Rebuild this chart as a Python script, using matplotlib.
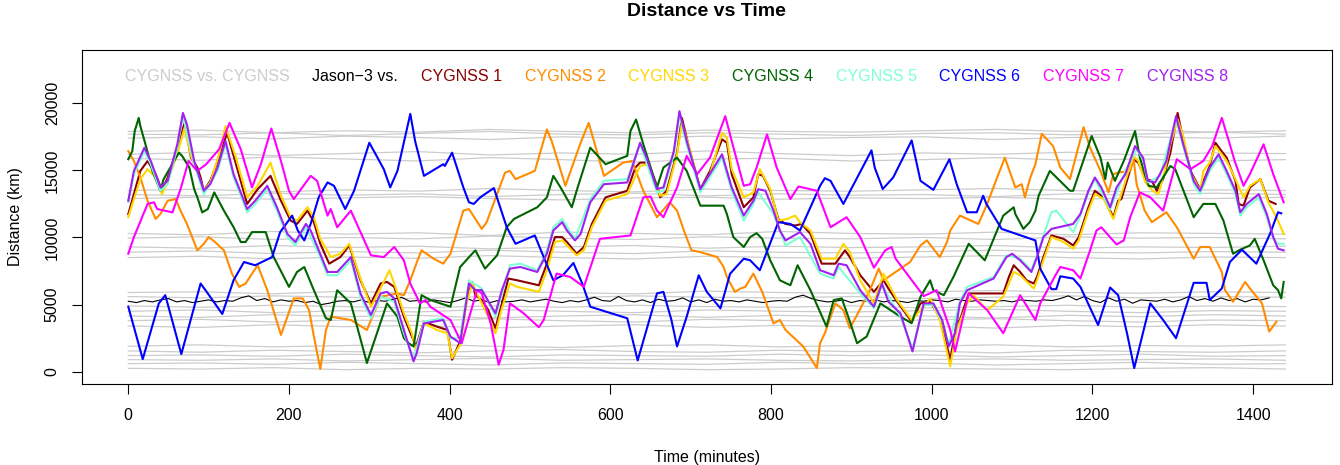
import numpy as np
import matplotlib
matplotlib.use("Agg")
import matplotlib.pyplot as plt

plt.rcParams['font.family'] = ['Liberation Sans', 'DejaVu Sans']

# ---- data (minutes, km) ----
jason_t = list(range(0, 1430, 10))
jason_d = [5250, 5150, 5300, 5200, 5350, 5450, 5200, 5300, 5150, 5250, 5350, 5200,
           5300, 5250, 5500, 5650, 5300, 5450, 5200, 5350, 5250, 5300, 5150, 5250,
           5000, 5100, 5250, 5300, 5200, 5350, 5150, 5300, 5250, 5400, 5550, 5250,
           5300, 5200, 5350, 5250, 5150, 5300, 5500, 5250, 5350, 5150, 5300, 5200,
           5250, 5350, 5200, 5300, 5400, 5250, 5150, 5300, 5200, 5350, 5550, 5300,
           5250, 5600, 5300, 5200, 5350, 5150, 5400, 5250, 5300, 5500, 5200, 5350,
           5150, 5400, 5250, 5300, 5200, 5350, 5250, 5150, 5250, 5300, 5250, 5550,
           5700, 5450, 5300, 5200, 5250, 5350, 5150, 5300, 5250, 5350, 5200, 5300,
           5250, 5150, 5300, 5250, 5350, 5300, 5200, 5400, 5300, 5250, 5350, 5300,
           5250, 5300, 5200, 5350, 5300, 5250, 5350, 5300, 5450, 5650, 5350, 5600,
           5300, 5150, 5500, 5250, 5400, 5100, 5350, 5300, 5250, 5400, 5200, 5350,
           5600, 5300, 5450, 5250, 5500, 5300, 5450, 5200, 5400, 5350, 5500]

# CYGNSS vs CYGNSS pairs (gray background lines)
pair_t = [0, 90, 180, 270, 360, 450, 540, 630, 720, 810, 900, 990, 1080, 1170, 1260, 1350, 1440]
pair_d = [
    [17700, 17650, 17800, 17600, 17750, 17900, 17700, 17650, 17800, 17700, 17600, 17750, 17800, 17650, 17700, 17850, 17700],
    [17400, 17500, 17350, 17550, 17450, 17300, 17500, 17400, 17550, 17350, 17450, 17500, 17300, 17450, 17500, 17400, 17550],
    [17900, 18000, 17800, 17950, 17850, 18050, 17900, 17800, 18000, 17900, 17850, 17950, 18050, 17900, 18000, 17850, 17950],
    [16200, 16350, 16100, 16250, 16400, 16150, 16300, 16200, 16450, 16250, 16100, 16300, 16200, 16350, 16150, 16300, 16250],
    [15900, 15750, 16000, 15850, 15700, 15950, 15800, 15600, 15850, 15900, 15700, 15800, 15950, 15750, 15850, 15700, 15800],
    [13500, 13600, 13400, 13550, 13450, 13650, 13500, 13400, 13600, 13500, 13450, 13550, 13650, 13500, 13400, 13550, 13500],
    [13200, 13100, 13300, 13150, 13250, 13050, 13200, 13300, 13100, 13250, 13150, 13200, 13050, 13250, 13150, 13300, 13200],
    [12900, 13000, 12850, 12950, 13050, 12900, 12800, 12950, 13000, 12850, 12950, 12900, 13000, 12850, 12950, 12900, 13000],
    [10300, 10200, 10450, 10250, 10350, 10150, 10400, 10300, 10200, 10450, 10300, 10250, 10400, 10200, 10350, 10300, 10250],
    [9950, 10050, 9850, 10000, 9900, 10100, 9950, 9850, 10050, 9950, 9900, 10000, 9850, 10050, 9950, 10000, 9900],
    [9300, 9200, 9400, 9250, 9350, 9150, 9300, 9400, 9200, 9350, 9250, 9300, 9400, 9200, 9300, 9250, 9350],
    [8900, 9000, 8800, 8950, 8850, 9050, 8900, 8800, 9000, 8900, 8850, 8950, 9050, 8900, 8850, 8950, 8900],
    [8500, 8600, 8400, 8550, 8450, 8650, 8500, 8400, 8600, 8500, 8450, 8550, 8650, 8500, 8400, 8550, 8500],
    [5900, 5950, 5800, 6000, 5850, 5950, 5900, 5800, 6000, 5900, 5850, 5950, 6050, 5900, 5850, 5950, 5900],
    [5600, 5500, 5650, 5550, 5450, 5600, 5500, 5650, 5550, 5500, 5600, 5450, 5550, 5650, 5500, 5600, 5550],
    [4900, 4800, 4950, 4850, 4750, 4900, 4800, 4950, 4850, 4800, 4900, 4750, 4850, 4950, 4800, 4900, 4850],
    [4500, 4600, 4400, 4550, 4450, 4650, 4500, 4400, 4600, 4500, 4450, 4550, 4650, 4500, 4400, 4550, 4500],
    [4150, 4050, 4250, 4100, 4200, 4000, 4150, 4250, 4050, 4200, 4100, 4150, 4000, 4200, 4100, 4250, 4150],
    [3800, 3900, 3700, 3850, 3750, 3950, 3800, 3700, 3900, 3800, 3750, 3850, 3950, 3800, 3700, 3850, 3800],
    [3400, 3300, 3500, 3350, 3450, 3250, 3400, 3500, 3300, 3450, 3350, 3400, 3250, 3450, 3350, 3500, 3400],
    [1900, 2000, 1850, 1950, 2050, 1900, 1800, 1950, 2000, 1850, 1950, 1900, 2000, 1850, 1950, 1900, 2000],
    [1550, 1450, 1600, 1500, 1400, 1550, 1650, 1500, 1450, 1600, 1500, 1550, 1400, 1600, 1500, 1450, 1550],
    [1200, 1250, 1150, 1300, 1200, 1100, 1250, 1200, 1150, 1300, 1200, 1250, 1100, 1200, 1300, 1150, 1200],
    [900, 850, 950, 800, 900, 1000, 850, 900, 950, 850, 800, 900, 950, 850, 900, 950, 850],
    [600, 650, 550, 700, 600, 500, 650, 600, 550, 700, 600, 650, 500, 600, 700, 550, 600],
    [250, 200, 300, 150, 250, 200, 300, 250, 150, 200, 300, 250, 200, 150, 250, 300, 200],
]

cyg1 = [(0,11750),(7,13230),(15,14960),(24,15700),(34,14720),(42,13480),(49,14470),(61,16690),(70,18540),
        (78,15950),(86,15210),(90,14470),(94,13480),(102,14220),(113,15950),(123,17800),(134,15460),(148,12500),
        (161,13600),(177,14590),(190,12740),(202,11260),(210,11010),(223,12000),(231,11140),(239,9530),(250,8050),
        (264,8540),(275,9410),(289,6810),(302,5090),(314,6570),(322,6690),(331,6320),(343,4100),(353,2620),(358,1880),
        (368,3730),(384,3360),(397,3110),(403,890),(413,2250),(421,5340),(428,6690),(432,5700),(440,5340),(448,4590),
        (457,3230),(465,5090),(473,6940),(484,6810),(511,6440),(521,8050),(531,10030),(540,10030),(546,9660),
        (558,8790),(567,9290),(577,11010),(594,12990),(621,13480),(631,15210),(637,15580),(647,15580),(658,13850),
        (662,12990),(670,13480),(683,16320),(689,18910),(699,16440),(712,13600),(724,14960),(739,17310),(745,17060),
        (751,14720),(766,12250),(778,12990),(784,14720),(790,14590),(799,13480),(809,11380),(818,11010),(830,10890),
        (838,11010),(849,10270),(863,8050),(880,8050),(892,9040),(898,8540),(911,7190),(928,5950),(940,6810),
        (946,6200),(957,5210),(975,3730),(986,5090),(998,5210),(1010,4100),(1023,890),(1031,3610),(1035,3850),
        (1046,5830),(1064,5830),(1089,5830),(1096,7060),(1102,7930),(1110,7430),(1118,6810),(1127,6570),(1131,7060),
        (1139,8540),(1149,10150),(1164,9900),(1176,9410),(1183,10030),(1195,12250),(1203,13480),(1214,12990),
        (1226,11510),(1232,12740),(1236,12860),(1251,15830),(1257,15580),(1266,14350),(1274,14220),(1280,13480),
        (1288,14350),(1297,16320),(1306,19280),(1313,17310),(1322,14960),(1334,13600),(1346,15330),(1353,17060),
        (1359,16570),(1367,15950),(1378,14220),(1382,12500),(1388,12370),(1396,13730),(1409,14350),(1419,12740),
        (1428,12500)]

cyg2 = [(0,16440),(7,15700),(15,14470),(24,12740),(34,11380),(40,11750),(49,12740),(59,12860),(65,12000),
        (73,11010),(86,9040),(94,9530),(100,10030),(108,9660),(119,9040),(129,7310),(138,6320),(146,6570),
        (161,7930),(173,6070),(190,2740),(206,5460),(217,5460),(225,4590),(231,2620),(239,200),(246,3110),
        (252,4100),(277,3850),(297,3110),(314,5580),(335,5830),(343,5700),(351,6810),(360,8300),(365,9040),
        (380,8420),(392,8050),(401,8790),(417,12000),(424,12120),(440,10640),(446,11140),(469,14840),(475,14960),
        (482,14350),(506,14960),(521,18050),(527,17180),(544,13850),(563,17060),(573,18540),(592,14590),
        (616,15580),(627,15700),(641,13480),(658,11510),(674,12620),(683,12000),(693,10270),(701,9040),
        (712,8910),(733,8540),(741,7800),(745,7060),(755,5950),(762,6200),(768,6320),(778,7310),(789,5950),
        (803,3600),(811,3850),(818,3110),(840,1880),(857,270),(861,2120),(867,2870),(880,5090),(890,4590),
        (898,3240),(907,4220),(923,6070),(934,7680),(940,6810),(973,8170),(986,9410),(994,9780),(1010,8540),
        (1019,9660),(1023,10520),(1035,11630),(1058,11010),(1069,12500),(1083,14720),(1091,15950),(1104,13730),
        (1112,13970),(1116,12990),(1122,14350),(1129,15460),(1137,17730),(1151,16810),(1160,15210),(1172,14350),
        (1189,18220),(1197,16690),(1210,14960),(1220,13360),(1226,14720),(1232,14840),(1247,14960),(1251,15950),
        (1255,13970),(1265,12000),(1274,11140),(1292,11880),(1305,10760),(1326,8420),(1334,9290),(1346,9290),
        (1361,7430),(1365,6070),(1375,5210),(1390,6690),(1396,6200),(1411,5090),(1420,2990),(1429,3730)]

cyg3 = [(0,11510),(7,12860),(15,14350),(24,15090),(34,14470),(42,13230),(49,14220),(61,16200),(70,18170),
        (78,16080),(86,14840),(94,13480),(102,14100),(113,16200),(121,18300),(134,15950),(148,12990),(161,13850),
        (177,15580),(190,13110),(202,11510),(210,11260),(223,12250),(231,11510),(239,9900),(252,8540),(264,8790),
        (275,9530),(289,6940),(302,4840),(314,6200),(325,7560),(331,6570),(343,4350),(353,2860),(358,1500),
        (368,3600),(384,3110),(397,2860),(403,1010),(413,2000),(421,5090),(428,6570),(440,5090),(448,4100),
        (457,2860),(465,4720),(475,6570),(484,6320),(511,5950),(521,7560),(531,9660),(540,9780),(546,9410),
        (558,8670),(567,9040),(577,10770),(594,12740),(621,13230),(637,15330),(647,15460),(662,13110),(670,13230),
        (683,16200),(689,18540),(699,16570),(712,13480),(724,14720),(739,17800),(745,17430),(751,15090),
        (766,12990),(778,13360),(786,15090),(799,13600),(809,11260),(820,11380),(830,11630),(836,11140),
        (849,10520),(863,8420),(880,8420),(890,9530),(898,8910),(911,6810),(928,5090),(940,7310),(946,6570),
        (957,5330),(975,3850),(990,4840),(998,5460),(1010,3850),(1023,400),(1031,3110),(1044,5090),(1052,5700),
        (1069,4590),(1089,5580),(1102,7430),(1110,7190),(1127,6200),(1131,6810),(1139,8300),(1149,10030),
        (1164,9660),(1176,9160),(1183,9780),(1195,12000),(1203,13230),(1214,12860),(1226,11380),(1232,12500),
        (1251,16080),(1257,15700),(1266,14100),(1275,13480),(1282,13230),(1290,14960),(1297,16940),(1306,18790),
        (1313,17560),(1322,14840),(1334,13480),(1338,14960),(1346,15580),(1353,16810),(1367,15700),(1378,14350),
        (1388,12990),(1396,13850),(1409,14350),(1419,12620),(1430,11380),(1438,10270)]

cyg4 = [(0,15830),(5,16440),(8,17930),(13,18910),(15,18300),(22,16810),(30,14960),(40,13480),(44,14350),
        (57,15700),(63,16320),(67,16080),(76,15210),(82,13600),(86,12990),(92,11870),(99,12120),(107,13360),
        (119,12000),(131,10770),(140,9660),(146,9660),(154,10400),(171,10400),(181,8540),(200,6320),(210,7430),
        (219,7800),(231,6070),(246,3980),(252,3850),(260,6070),(277,5090),(297,650),(322,5090),(335,4100),
        (343,2500),(349,2120),(355,1880),(358,3000),(365,5700),(376,5340),(401,4840),(413,7800),(428,8790),
        (432,9040),(444,7680),(459,8670),(471,10770),(480,11380),(509,12250),(521,12990),(529,14590),(538,13730),
        (552,12250),(558,13480),(575,16690),(594,15460),(621,16080),(625,17930),(632,18790),(641,16940),
        (658,13730),(666,15210),(683,15950),(695,14960),(712,12370),(741,12370),(745,11750),(753,10030),
        (766,9290),(774,10030),(782,10320),(789,9900),(799,8300),(811,6810),(824,6440),(833,7930),(849,6070),
        (869,3360),(878,5340),(888,5460),(896,4100),(907,2125),(919,2620),(936,5090),(961,4100),(975,3610),
        (986,5580),(998,6810),(1002,6070),(1015,5700),(1027,7060),(1046,9530),(1066,8300),(1089,11630),
        (1102,12250),(1104,11750),(1114,10640),(1122,11140),(1129,12000),(1133,13110),(1147,14960),(1172,13480),
        (1176,13480),(1199,17560),(1210,15950),(1216,14350),(1219,15580),(1228,14220),(1239,15700),(1253,17930),
        (1259,15950),(1270,13850),(1280,13730),(1297,15330),(1303,15090),(1326,11510),(1338,12500),(1353,12500),
        (1363,11260),(1375,8790),(1384,9090),(1396,9410),(1402,9900),(1413,8300),(1425,6440),(1431,6075),
        (1435,5460),(1438,6690)]

cyg5 = [(0,12620),(7,14720),(20,16440),(28,15460),(40,13480),(49,13970),(61,16690),(68,19040),(82,15460),
        (94,13230),(111,14960),(121,16940),(131,14470),(148,11880),(158,12500),(173,13600),(185,12000),
        (198,10030),(208,9410),(221,10770),(237,8790),(248,7190),(260,7190),(277,8300),(289,5580),(302,3970),
        (314,5580),(331,5210),(343,2860),(355,1000),(368,3730),(392,3980),(401,2500),(413,2500),(424,6810),
        (440,6200),(457,4100),(475,7930),(488,8050),(509,7560),(521,9040),(529,10770),(540,11380),(556,9900),
        (575,12860),(592,14220),(621,14350),(637,16940),(658,13360),(666,13480),(679,16200),(686,19160),
        (695,16940),(712,13360),(739,15950),(751,13480),(766,11260),(778,12500),(784,13360),(803,11750),
        (818,9410),(836,10030),(861,7310),(878,6940),(884,7800),(911,5830),(928,4720),(938,6440),(961,4100),
        (976,1750),(990,4970),(1002,4970),(1013,3730),(1021,2000),(1035,5210),(1044,6320),(1077,7060),
        (1093,8670),(1110,8420),(1124,7560),(1131,8670),(1139,10150),(1149,11880),(1155,12000),(1176,10400),
        (1185,11630),(1195,13360),(1203,14350),(1222,12120),(1241,14960),(1255,16560),(1263,15830),(1269,14100),
        (1284,14590),(1304,18790),(1313,16810),(1326,13970),(1334,13230),(1346,14960),(1357,15950),(1367,14720),
        (1378,13230),(1384,11630),(1392,12250),(1407,12990),(1417,11510),(1425,9900),(1431,9530),(1438,9530)]

cyg6 = [(0,4840),(18,940),(38,5090),(46,5700),(50,4840),(66,1310),(90,6570),(96,6080),(117,4300),(131,6810),
        (144,8170),(158,7930),(179,8540),(189,10400),(204,11630),(211,10520),(219,9780),(227,11010),(237,12990),
        (248,14100),(256,13850),(270,12120),(281,13480),(300,17060),(318,15090),(326,13730),(335,14960),
        (351,19210),(357,17180),(368,14590),(392,15460),(394,15330),(403,16320),(417,13730),(424,12620),
        (430,12500),(438,12990),(455,13680),(471,10770),(482,9530),(506,10150),(517,8540),(529,6810),(541,7190),
        (554,8100),(565,6570),(575,4840),(621,3980),(634,840),(658,5830),(666,5950),(676,3850),(683,1880),
        (695,4100),(710,7185),(720,5950),(737,4720),(749,7300),(766,8420),(774,8300),(786,7560),(809,11140),
        (824,11010),(836,10520),(861,13850),(867,14420),(874,14220),(890,12500),(925,16490),(929,15210),
        (939,13610),(952,14470),(975,17230),(986,14220),(1002,13550),(1022,15830),(1031,13980),(1044,11880),
        (1056,11880),(1064,13110),(1068,12500),(1087,10640),(1129,9780),(1135,7680),(1149,6150),(1155,6150),
        (1160,7110),(1176,6940),(1185,6320),(1207,3480),(1222,6270),(1232,5700),(1243,2870),(1252,270),
        (1272,5090),(1288,3850),(1304,2500),(1326,6620),(1342,6620),(1346,5340),(1361,6200),(1371,8170),
        (1386,9090),(1404,8050),(1421,10270),(1431,11880),(1435,11800)]

cyg7 = [(0,8790),(7,10030),(24,12500),(32,12620),(36,12120),(55,11870),(65,13600),(75,15700),(82,15210),
        (86,14960),(97,15460),(113,16570),(126,18540),(140,16570),(154,13730),(165,15460),(178,18120),(190,15700),
        (200,13480),(206,12860),(227,14590),(235,14220),(248,11630),(252,12120),(260,10760),(277,12000),
        (302,8670),(318,8540),(331,9290),(343,8300),(351,6570),(363,5090),(370,5340),(376,4840),(401,3850),
        (415,2125),(434,6080),(440,5830),(451,3600),(461,520),(467,1630),(475,5090),(492,4350),(511,3310),
        (517,3850),(533,7310),(550,7060),(567,6320),(587,9900),(625,10150),(641,12990),(650,13050),(658,12000),
        (666,11510),(683,13730),(695,16080),(708,14720),(724,15950),(743,19040),(751,17190),(766,13850),
        (774,13970),(782,15210),(795,17680),(807,15210),(824,12860),(834,13800),(857,13480),(874,10760),
        (894,11510),(911,10030),(928,7750),(942,9040),(950,9290),(955,8420),(990,5630),(1006,6070),(1023,3110),
        (1029,1510),(1046,5830),(1069,4590),(1089,2865),(1110,5700),(1129,3850),(1135,5090),(1154,7190),
        (1160,7800),(1176,7560),(1185,6940),(1197,9040),(1205,10520),(1211,10760),(1230,9480),(1239,9780),
        (1247,11510),(1259,13360),(1272,12990),(1288,12000),(1305,15830),(1322,15090),(1338,15700),(1349,16810),
        (1361,18910),(1371,16940),(1377,15700),(1388,13850),(1396,14720),(1413,16940),(1425,14720),(1438,12620)]

cyg8 = [(0,12740),(7,14960),(20,16690),(28,15700),(40,13730),(49,14220),(61,16940),(68,19280),(73,18420),
        (82,15700),(94,13480),(102,13970),(111,15210),(121,17190),(131,14720),(148,12120),(158,12740),
        (173,13850),(185,12250),(198,10270),(208,9660),(221,11010),(227,10520),(237,9040),(248,7430),(260,7430),
        (277,8540),(289,5830),(302,4220),(314,5830),(322,5950),(331,5460),(343,3110),(355,770),(359,1380),
        (368,3600),(392,3850),(401,2620),(413,2130),(424,6570),(432,6080),(440,6080),(457,4350),(465,6080),
        (475,7680),(488,7800),(509,7430),(521,8790),(529,10520),(540,11140),(546,10520),(556,9780),(563,10270),
        (575,12620),(592,13970),(621,14100),(637,17060),(645,15950),(658,13600),(666,13730),(679,16440),
        (686,19410),(695,17190),(712,13600),(739,16200),(751,13730),(766,11630),(778,12740),(784,13600),
        (793,13480),(803,12000),(811,10520),(818,9780),(836,10400),(849,9530),(861,7560),(878,7190),(884,8050),
        (894,7930),(911,6070),(928,4840),(938,6570),(946,5210),(961,4350),(976,1510),(990,5090),(1002,5090),
        (1013,3850),(1021,1880),(1029,2870),(1035,5090),(1044,6070),(1077,6940),(1093,8540),(1100,8790),
        (1110,8300),(1124,7430),(1131,8540),(1139,10030),(1149,10640),(1176,11010),(1185,11750),(1195,13480),
        (1203,14470),(1211,13730),(1222,12250),(1230,13730),(1241,14720),(1253,16810),(1263,15950),(1269,14220),
        (1278,14100),(1284,14720),(1292,15700),(1304,19040),(1313,16940),(1326,14220),(1334,13480),(1346,15210),
        (1357,16200),(1367,14960),(1378,13480),(1384,11880),(1392,12500),(1407,13230),(1417,11750),(1425,10030),
        (1431,9160),(1438,9040)]

cyg_series = [cyg1, cyg2, cyg3, cyg4, cyg5, cyg6, cyg7, cyg8]
cyg_labels = ['CYGNSS 1', 'CYGNSS 2', 'CYGNSS 3', 'CYGNSS 4',
              'CYGNSS 5', 'CYGNSS 6', 'CYGNSS 7', 'CYGNSS 8']
cyg_colors = ['#8B0000', '#FF8C00', '#FFD700', '#006400',
              '#7FFFD4', '#0000FF', '#FF00FF', '#A020F0']

# ---- plot ----
fig = plt.figure(figsize=(13.4, 4.65), dpi=100)
ax = fig.add_axes([0.0612, 0.1742, 0.9325, 0.7183])

for i, row in enumerate(pair_d):
    ax.plot(pair_t, row, color='#CCCCCC', lw=0.9,
            label='CYGNSS vs. CYGNSS' if i == 0 else None)

ax.plot(jason_t, jason_d, color='black', lw=0.8, label='Jason\u22123 vs.')

for pts, lab, col in zip(cyg_series, cyg_labels, cyg_colors):
    arr = np.array(pts).T
    ax.plot(arr[0], arr[1], color=col, lw=1.5, label=lab)

ax.set_xlim(-57.6, 1497.6)
ax.set_ylim(-917, 23970)
ax.set_xticks(range(0, 1401, 200))
ax.set_yticks(range(0, 20001, 5000))
ax.tick_params(axis='both', labelsize=11.5, length=7, width=0.8, direction='out')
ax.tick_params(axis='x', pad=10)
ax.tick_params(axis='y', pad=9)
for lab in ax.get_yticklabels():
    lab.set_rotation(90)
    lab.set_va('center')
for sp in ax.spines.values():
    sp.set_linewidth(0.8)

ax.set_xlabel('Time (minutes)', fontsize=11.5)
ax.xaxis.set_label_coords(0.5, -0.2186)
ax.xaxis.label.set_va('center')
ax.set_ylabel('Distance (km)', fontsize=11.5)
ax.yaxis.set_label_coords(-0.0536, 0.5)
ax.yaxis.label.set_va('center')

ax.text(0.5, 1.1138, 'Distance vs Time', transform=ax.transAxes,
        ha='center', va='center', fontsize=14, fontweight='bold')

leg = ax.legend(loc='center left', bbox_to_anchor=(0.0344, 0.922), ncol=10,
                frameon=False, handlelength=0, handletextpad=0, columnspacing=1.42,
                borderpad=0, borderaxespad=0, fontsize=11.5, labelcolor='linecolor')
for h in leg.legend_handles:
    h.set_visible(False)

fig.savefig('out.png', dpi=100)
